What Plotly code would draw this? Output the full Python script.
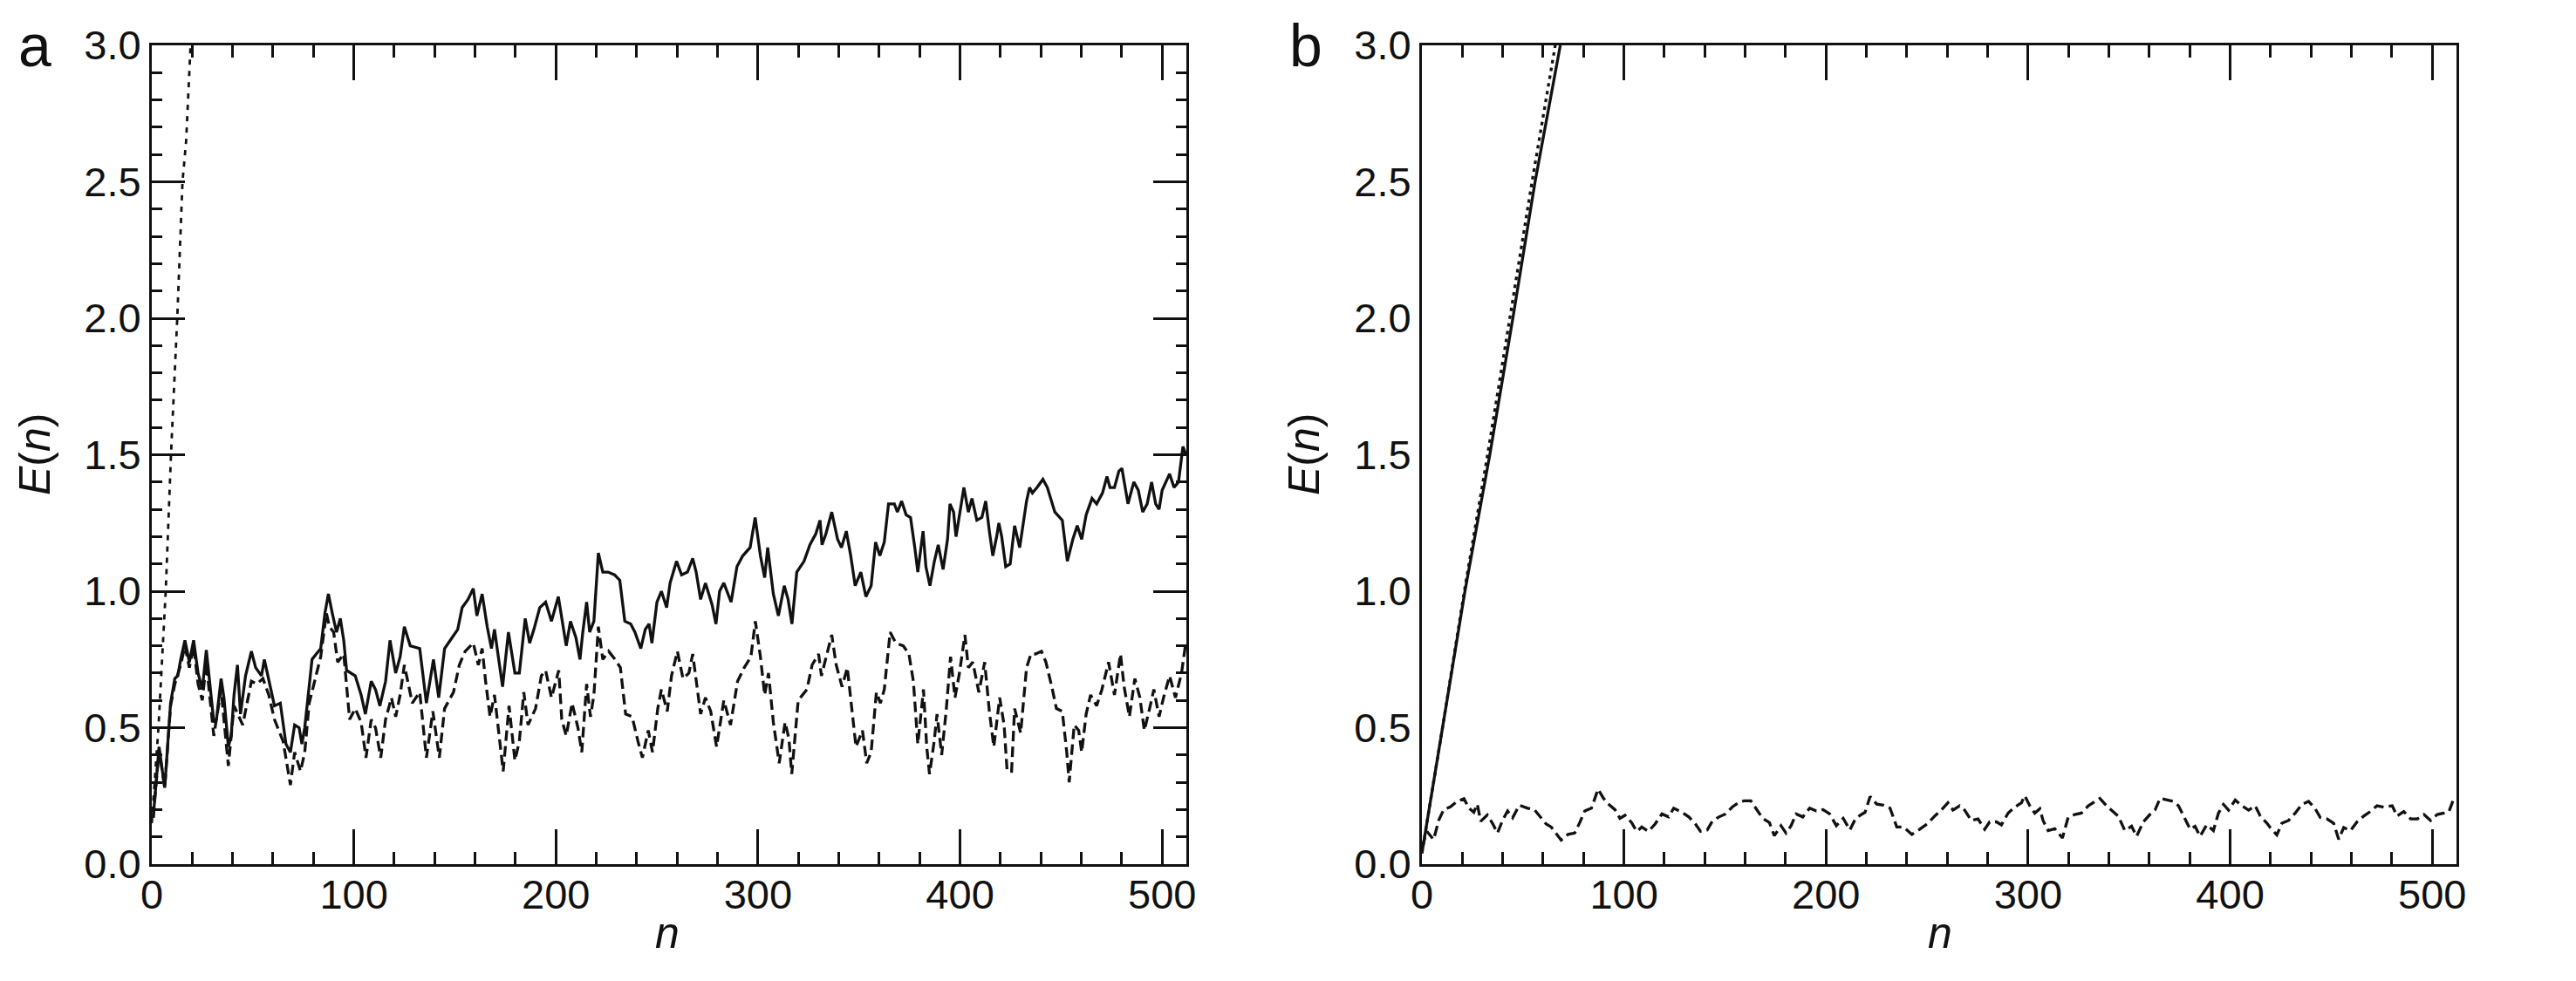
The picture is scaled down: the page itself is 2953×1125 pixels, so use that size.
import plotly.graph_objects as go

# ---------------- Panel a data ----------------
a_solid_n = [0.7, 3.6, 6.4, 9.3, 11.4, 12.9, 14.3, 16.4, 18.6, 20.7, 22.9, 25.0, 27.0, 28.6, 30.7, 32.0, 34.3, 35.7, 37.9, 39.3,
             40.7, 42.4, 43.9, 46.4, 49.3, 51.4, 54.3, 55.7, 57.9, 60.7, 63.6, 65.0, 66.4, 68.6, 70.7, 72.9, 74.3, 75.7, 77.0, 79.3,
             81.4, 83.6, 85.7, 87.4, 89.3, 91.4, 93.3, 95.0, 96.4, 98.6, 100.7, 103.6, 105.7, 108.6, 110.7, 112.9, 115.7, 117.9, 119.3, 120.7,
             122.9, 125.0, 127.9,
             132.6, 135.9, 139.4, 142.0, 144.9, 148.6, 151.4, 153.6, 156.5, 159.1, 160.9, 163.5, 166.0, 168.1, 169.6, 173.6, 176.5, 179.7,
             181.9, 184.8, 187.0, 189.1, 192.0, 194.9, 197.8, 201.2, 202.9, 205.1, 207.2, 209.9, 211.9, 213.3, 215.2, 216.7, 218.8, 221.0,
             223.2, 225.8, 229.0, 231.6, 234.1, 237.0, 239.1, 242.0, 244.2, 246.1, 247.5, 250.0, 252.2, 254.8, 256.5, 259.7,
             262.2, 265.1, 267.7, 269.4, 271.6, 274.0, 277.3, 279.2, 281.0, 283.1, 286.7, 289.6, 292.5, 296.1, 298.6, 301.2, 303.3, 304.8,
             307.6, 310.1, 313.0, 314.9, 316.8, 319.2, 322.8, 325.7, 328.6, 330.7, 331.7, 333.6, 336.5, 339.4, 341.3, 343.7, 345.9, 348.1,
             350.9, 353.4, 356.0, 358.2, 360.3, 362.5, 364.6, 367.5, 369.0, 371.1, 373.3, 375.5, 377.6, 379.1, 381.7,
             383.1, 385.1, 387.3, 389.2, 391.6, 393.8, 395.0, 396.8, 398.0, 401.9, 404.1, 405.9, 408.3, 410.8, 412.7, 414.5, 416.2, 418.1,
             419.2, 420.6, 422.6, 424.8, 427.0, 429.5, 430.7, 432.9, 434.4, 435.8, 438.1, 441.0, 443.2, 446.9, 450.6, 453.1, 455.8, 458.0,
             460.2, 462.4, 465.3, 467.6, 470.5, 472.7, 474.2, 476.4, 478.6, 480.1, 483.1, 486.0, 488.2, 490.4, 492.6, 494.8, 496.8, 498.5,
             500.0, 503.7, 505.9, 508.1, 510.3, 511.8]
a_solid_E = [0.17, 0.43, 0.28, 0.59, 0.68, 0.69, 0.75, 0.82, 0.74, 0.82, 0.70, 0.64, 0.785, 0.67, 0.52, 0.53, 0.68, 0.61, 0.43, 0.47,
             0.62, 0.73, 0.55, 0.69, 0.78, 0.72, 0.69, 0.75, 0.67, 0.58, 0.59, 0.51, 0.44, 0.41, 0.51, 0.50, 0.44, 0.50, 0.60, 0.75,
             0.77, 0.79, 0.92, 0.99, 0.92, 0.85, 0.90, 0.82, 0.71, 0.70, 0.69, 0.62, 0.55, 0.67, 0.64, 0.58, 0.67, 0.82, 0.76, 0.70,
             0.76, 0.87, 0.80,
             0.79, 0.59, 0.75, 0.61, 0.79, 0.83, 0.86, 0.94, 0.97, 1.01, 0.91, 0.99, 0.87, 0.79, 0.86, 0.65, 0.85, 0.70,
             0.70, 0.90, 0.81, 0.86, 0.94, 0.96, 0.89, 0.98, 0.90, 0.80, 0.89, 0.83, 0.75, 0.85, 0.96, 0.85, 0.89, 1.14,
             1.07, 1.07, 1.06, 1.04, 0.89, 0.88, 0.85, 0.79, 0.86, 0.88, 0.81, 0.96, 1.00, 0.94, 1.03, 1.11,
             1.06, 1.07, 1.12, 1.07, 0.97, 1.03, 0.95, 0.88, 1.00, 1.03, 0.96, 1.09, 1.13, 1.16, 1.27, 1.13, 1.05, 1.16,
             0.99, 0.91, 1.02, 0.97, 0.88, 1.07, 1.11, 1.17, 1.21, 1.26, 1.17, 1.21, 1.29, 1.19, 1.16, 1.22, 1.13, 1.02,
             1.07, 0.98, 1.02, 1.18, 1.13, 1.18, 1.32, 1.32, 1.29, 1.33, 1.28, 1.27, 1.16, 1.07, 1.22,
             1.09, 1.02, 1.11, 1.17, 1.08, 1.19, 1.32, 1.29, 1.20, 1.38, 1.29, 1.34, 1.26, 1.27, 1.33, 1.22, 1.13, 1.20,
             1.25, 1.20, 1.09, 1.10, 1.24, 1.16, 1.22, 1.33, 1.38, 1.36, 1.38, 1.41, 1.38, 1.29, 1.26, 1.11, 1.19, 1.24,
             1.19, 1.28, 1.34, 1.32, 1.36, 1.42, 1.38, 1.38, 1.44, 1.45, 1.32, 1.40, 1.37, 1.29, 1.32, 1.40, 1.32, 1.30,
             1.37, 1.43, 1.38, 1.40, 1.53, 1.50]

a_dash_n = [0.7, 3.6, 6.4, 9.3, 11.4, 14.3, 16.4, 18.6, 20.7, 22.9, 25.0, 27.0, 28.6,
            30.7, 34.3, 37.9, 40.7, 45.0, 49.3, 52.0, 55.0, 57.9, 60.7, 65.0, 68.6, 70.7, 73.6, 75.7, 77.9, 80.7, 83.6, 86.4, 87.9,
            90.0, 92.0, 95.0, 97.9, 100.7, 103.6, 106.0, 108.6, 110.7, 113.3, 115.7, 118.6, 120.7, 122.9, 125.0, 127.9,
            128.9, 132.6, 135.9, 139.1, 142.3, 144.9, 149.3, 152.2, 155.1, 159.1, 161.6, 163.5, 165.2, 167.4, 169.6, 173.9, 176.8,
            179.7, 181.9, 184.1, 186.2, 189.9, 192.8, 194.9, 197.8, 201.4, 202.9, 205.1, 208.0, 210.9, 212.8, 215.2, 217.1, 218.8,
            221.0, 223.2, 226.1, 229.3, 231.9, 234.5, 237.7, 240.6, 242.8, 245.7, 247.8, 250.4, 252.2, 255.1, 257.2, 260.1,
            262.9, 265.8, 267.7, 271.6, 274.0, 276.6, 279.5, 283.1, 286.4, 289.9, 293.2, 296.5, 298.7, 301.2, 303.3, 305.2, 307.6,
            310.5, 313.4, 315.3, 316.7, 319.9, 324.2, 326.8, 330.0, 331.4, 334.3, 336.5, 338.7, 341.6, 344.2, 346.6, 348.5, 351.7,
            353.8, 356.0, 358.6, 360.6, 362.5, 365.4, 368.2, 371.9, 374.7, 376.9, 379.1, 381.9,
            383.5, 384.9, 387.2, 388.6, 390.9, 393.1, 395.3, 397.5, 399.7, 402.4, 404.1, 406.3, 409.3, 412.2, 414.5, 416.7, 419.6,
            421.8, 423.3, 425.5, 427.0, 430.0, 432.9, 435.1, 437.3, 440.3, 442.5, 445.4, 447.7, 450.6, 452.8, 454.0, 456.5, 458.7,
            460.2, 462.4, 464.6, 467.6, 470.2, 473.5, 476.4, 479.4, 481.2, 483.8, 486.5, 489.0, 491.2, 493.8, 495.9, 498.5, 500.7,
            503.7, 506.6, 509.6, 511.5]
a_dash_E = [0.17, 0.42, 0.28, 0.58, 0.66, 0.73, 0.80, 0.72, 0.80, 0.66, 0.60, 0.74, 0.62,
            0.47, 0.64, 0.36, 0.58, 0.51, 0.67, 0.66, 0.68, 0.62, 0.53, 0.45, 0.29, 0.41, 0.34, 0.41, 0.59, 0.67, 0.76, 0.92, 0.87,
            0.85, 0.74, 0.77, 0.53, 0.57, 0.52, 0.39, 0.53, 0.50, 0.39, 0.53, 0.61, 0.54, 0.62, 0.73, 0.62,
            0.59, 0.63, 0.39, 0.56, 0.39, 0.57, 0.63, 0.73, 0.78, 0.81, 0.73, 0.79, 0.67, 0.54, 0.62, 0.34, 0.58,
            0.38, 0.45, 0.63, 0.51, 0.57, 0.69, 0.71, 0.61, 0.71, 0.53, 0.47, 0.59, 0.50, 0.41, 0.66, 0.54, 0.62,
            0.87, 0.75, 0.78, 0.75, 0.72, 0.55, 0.54, 0.45, 0.39, 0.49, 0.41, 0.57, 0.64, 0.56, 0.69, 0.78,
            0.68, 0.70, 0.77, 0.55, 0.61, 0.56, 0.43, 0.60, 0.51, 0.67, 0.72, 0.76, 0.89, 0.76, 0.62, 0.70, 0.52,
            0.37, 0.52, 0.46, 0.33, 0.60, 0.64, 0.73, 0.77, 0.69, 0.78, 0.84, 0.73, 0.65, 0.72, 0.55, 0.43, 0.49,
            0.37, 0.41, 0.63, 0.59, 0.64, 0.85, 0.81, 0.80, 0.77, 0.67, 0.44, 0.64,
            0.43, 0.33, 0.45, 0.55, 0.40, 0.56, 0.76, 0.61, 0.70, 0.84, 0.72, 0.74, 0.63, 0.74, 0.56, 0.43, 0.61,
            0.51, 0.34, 0.34, 0.57, 0.48, 0.72, 0.77, 0.77, 0.78, 0.74, 0.65, 0.57, 0.56, 0.41, 0.30, 0.51, 0.49,
            0.41, 0.55, 0.62, 0.58, 0.64, 0.74, 0.62, 0.77, 0.65, 0.54, 0.68, 0.61, 0.49, 0.57, 0.64, 0.54, 0.61,
            0.69, 0.61, 0.70, 0.80]

a_dot_n = [0.0, 3.3, 6.9, 9.5, 12.6, 15.2, 17.0, 19.2]
a_dot_E = [0.15, 0.50, 1.00, 1.50, 2.00, 2.50, 2.65, 3.00]

# ---------------- Panel b data ----------------
b_solid_n = [0.0, 6.9, 10.2, 21.3, 33.6, 45.0, 56.0, 68.5]
b_solid_E = [0.04, 0.35, 0.50, 1.00, 1.50, 2.00, 2.50, 3.00]

b_dot_n = [0.0, 6.9, 10.2, 21.0, 32.5, 43.5, 54.5, 66.0]
b_dot_E = [0.04, 0.35, 0.50, 1.00, 1.50, 2.00, 2.50, 3.00]

b_dash_n = [0.0, 2.5, 5.8, 8.3, 10.8, 14.1, 17.4, 20.8, 23.3, 25.7, 27.4, 29.1, 32.4, 34.9, 37.4, 39.9, 42.4, 44.9, 48.2, 52.3,
            55.6, 59.0, 61.5, 64.0, 67.3, 68.9, 72.3, 75.6, 78.1, 80.6, 83.9, 85.5, 87.2, 89.7, 92.2, 95.5, 98.0, 100.5, 103.8, 106.3,
            108.8, 112.1, 115.4, 118.8, 122.1, 124.6, 128.7, 132.1, 135.4, 137.9, 141.2, 143.7, 147.0, 150.3, 153.7, 157.0, 159.5, 162.8, 165.3, 168.6,
            172.0, 174.4, 177.7, 180.2, 182.7, 185.2, 188.5, 191.9, 195.2, 198.5, 201.8, 205.1, 208.5, 211.8, 214.3, 216.8, 219.3, 221.8, 225.1, 228.4,
            231.7, 235.0, 238.4, 242.5, 245.8, 250.0, 254.2, 257.0, 260.3, 262.8, 266.1, 268.6, 271.9, 275.2, 278.5, 281.0, 284.3, 286.8, 290.1, 293.4,
            296.7, 298.3, 300.8, 303.3, 305.8, 307.4, 309.9, 313.2, 317.0, 319.8, 323.1, 326.4, 329.8, 333.1, 335.5, 338.8, 341.3, 344.6, 347.9, 351.2,
            353.7, 357.0, 360.3, 362.8, 365.3, 368.6, 371.9, 374.4, 377.7, 380.2, 382.6, 385.1, 388.4, 391.7, 394.2, 396.7, 399.2, 402.5, 405.8, 409.1,
            412.4, 414.9, 418.2, 419.8, 423.1, 425.6, 428.9, 432.2, 435.5, 438.8, 442.1, 444.6, 447.9, 451.2, 453.7, 456.2, 459.5, 462.8, 466.1, 469.4,
            472.7, 476.0, 480.2, 482.6, 485.9, 489.3, 492.6, 495.9, 499.2, 502.5, 505.8, 508.3, 510.7]
b_dash_E = [0.06, 0.12, 0.09, 0.16, 0.20, 0.21, 0.23, 0.24, 0.205, 0.19, 0.22, 0.157, 0.18, 0.15, 0.114, 0.16, 0.195, 0.17, 0.216, 0.205,
            0.20, 0.168, 0.147, 0.136, 0.104, 0.088, 0.109, 0.114, 0.152, 0.195, 0.205, 0.243, 0.275, 0.243, 0.221, 0.20, 0.168, 0.179, 0.152, 0.12,
            0.136, 0.12, 0.147, 0.184, 0.173, 0.205, 0.19, 0.173, 0.147, 0.12, 0.125, 0.157, 0.173, 0.184, 0.21, 0.227, 0.232, 0.232, 0.205, 0.168,
            0.152, 0.104, 0.141, 0.114, 0.141, 0.184, 0.173, 0.205, 0.195, 0.20, 0.184, 0.141, 0.168, 0.125, 0.162, 0.179, 0.19, 0.248, 0.22, 0.216,
            0.205, 0.136, 0.136, 0.109, 0.125, 0.147, 0.179, 0.198, 0.225, 0.198, 0.214, 0.198, 0.16, 0.166, 0.128, 0.155, 0.155, 0.144, 0.187, 0.209,
            0.225, 0.251, 0.214, 0.187, 0.203, 0.16, 0.123, 0.13, 0.096, 0.171, 0.182, 0.187, 0.214, 0.23, 0.241, 0.214, 0.198, 0.176, 0.123, 0.139,
            0.102, 0.155, 0.182, 0.198, 0.241, 0.235, 0.23, 0.214, 0.166, 0.128, 0.139, 0.102, 0.144, 0.123, 0.187, 0.219, 0.198, 0.235, 0.214, 0.198,
            0.214, 0.176, 0.15, 0.134, 0.107, 0.15, 0.16, 0.187, 0.219, 0.23, 0.203, 0.171, 0.166, 0.15, 0.091, 0.134, 0.123, 0.155, 0.176, 0.193,
            0.214, 0.209, 0.214, 0.176, 0.193, 0.166, 0.166, 0.182, 0.16, 0.182, 0.187, 0.193, 0.241]

assert len(a_solid_n) == len(a_solid_E), (len(a_solid_n), len(a_solid_E))
assert len(a_dash_n) == len(a_dash_E), (len(a_dash_n), len(a_dash_E))
assert len(b_dash_n) == len(b_dash_E), (len(b_dash_n), len(b_dash_E))

x_ticks = [0, 100, 200, 300, 400, 500]
y_ticks = [0.0, 0.5, 1.0, 1.5, 2.0, 2.5, 3.0]
y_ticktext = ["0.0", "0.5", "1.0", "1.5", "2.0", "2.5", "3.0"]

# ---------------- Figure ----------------
W, H = 2953, 1125
BLACK = "#111111"
FONT = "Liberation Sans"
TICKFONT = dict(family=FONT, size=47, color=BLACK)

def px_x(p):
    return p / W

def px_y(p):
    return 1 - p / H

fig = go.Figure()

line_solid = dict(color=BLACK, width=3.3)
line_dash = dict(color=BLACK, width=3.3, dash="12px,6px")
line_dot = dict(color=BLACK, width=2.8, dash="6px,7px")

fig.add_trace(go.Scatter(x=a_solid_n, y=a_solid_E, mode="lines", line=line_solid, xaxis="x", yaxis="y", showlegend=False))
fig.add_trace(go.Scatter(x=a_dash_n, y=a_dash_E, mode="lines", line=line_dash, xaxis="x", yaxis="y", showlegend=False))
fig.add_trace(go.Scatter(x=a_dot_n, y=a_dot_E, mode="lines", line=line_dot, xaxis="x", yaxis="y", showlegend=False))

fig.add_trace(go.Scatter(x=b_solid_n, y=b_solid_E, mode="lines", line=line_solid, xaxis="x2", yaxis="y2", showlegend=False))
fig.add_trace(go.Scatter(x=b_dot_n, y=b_dot_E, mode="lines", line=dict(color=BLACK, width=3.3, dash="4px,5px"), xaxis="x2", yaxis="y2", showlegend=False))
fig.add_trace(go.Scatter(x=b_dash_n, y=b_dash_E, mode="lines", line=line_dash, xaxis="x2", yaxis="y2", showlegend=False))

ydom = [px_y(991), px_y(52)]
xdom_a = [px_x(174), px_x(1360)]
xdom_b = [px_x(1630), px_x(2816)]

common_x = dict(range=[0, 512], tickmode="array", tickvals=x_ticks, ticks="inside", ticklen=40, tickwidth=2.5,
                tickcolor=BLACK, showline=True, linecolor=BLACK, linewidth=3, mirror="ticks",
                showgrid=False, zeroline=False, automargin=False, ticklabelstandoff=-8,
                tickfont=TICKFONT,
                minor=dict(ticks="inside", tick0=0, dtick=20, ticklen=14, tickwidth=2.5, tickcolor=BLACK, showgrid=False))

fig.update_layout(
    width=W, height=H,
    margin=dict(l=0, r=0, t=0, b=0, autoexpand=False),
    paper_bgcolor="white", plot_bgcolor="white",
    showlegend=False,
    xaxis=dict(domain=xdom_a, anchor="y", **common_x),
    xaxis2=dict(domain=xdom_b, anchor="y2", **common_x),
    yaxis=dict(domain=ydom, anchor="x", range=[0, 3], tickmode="array", tickvals=y_ticks, ticktext=y_ticktext,
               ticks="inside", ticklen=38, tickwidth=2.5, tickcolor=BLACK, automargin=False,
               showline=True, linecolor=BLACK, linewidth=3, mirror="ticks", showgrid=False, zeroline=False,
               tickfont=TICKFONT,
               minor=dict(ticks="inside", tick0=0, dtick=0.1, ticklen=12, tickwidth=2.5, tickcolor=BLACK, showgrid=False)),
    yaxis2=dict(domain=ydom, anchor="x2", range=[0, 3], tickmode="array", tickvals=y_ticks, ticktext=y_ticktext,
                ticks="", showline=True, linecolor=BLACK, linewidth=3, mirror=True, showgrid=False, zeroline=False,
                automargin=False, tickfont=TICKFONT),
    yaxis3=dict(overlaying="y2", anchor="x2", side="left", range=[0, 3], tickmode="linear", tick0=0, dtick=0.6,
                ticks="inside", ticklen=38, tickwidth=2.5, tickcolor=BLACK, showticklabels=False, automargin=False,
                showline=True, linecolor=BLACK, linewidth=3, mirror="ticks", showgrid=False, zeroline=False,
                minor=dict(ticks="inside", tick0=0, dtick=0.12, ticklen=12, tickwidth=2.5, tickcolor=BLACK, showgrid=False)),
)

ann = []
for lab, x in (("a", 40), ("b", 1497)):
    ann.append(dict(text=lab, x=px_x(x), y=px_y(52), xref="paper", yref="paper", xanchor="center", yanchor="middle",
                    showarrow=False, font=dict(family=FONT, size=68, color=BLACK)))
for x in (40, 1495):
    ann.append(dict(text="<i>E</i>(<i>n</i>)", x=px_x(x), y=px_y(521), xref="paper", yref="paper", xanchor="center",
                    yanchor="middle", textangle=-90, showarrow=False, font=dict(family=FONT, size=50, color=BLACK)))
for x in (765, 2224):
    ann.append(dict(text="<i>n</i>", x=px_x(x), y=px_y(1070), xref="paper", yref="paper", xanchor="center",
                    yanchor="middle", showarrow=False, font=dict(family=FONT, size=50, color=BLACK)))
fig.update_layout(annotations=ann)

fig.write_html("out.html")
